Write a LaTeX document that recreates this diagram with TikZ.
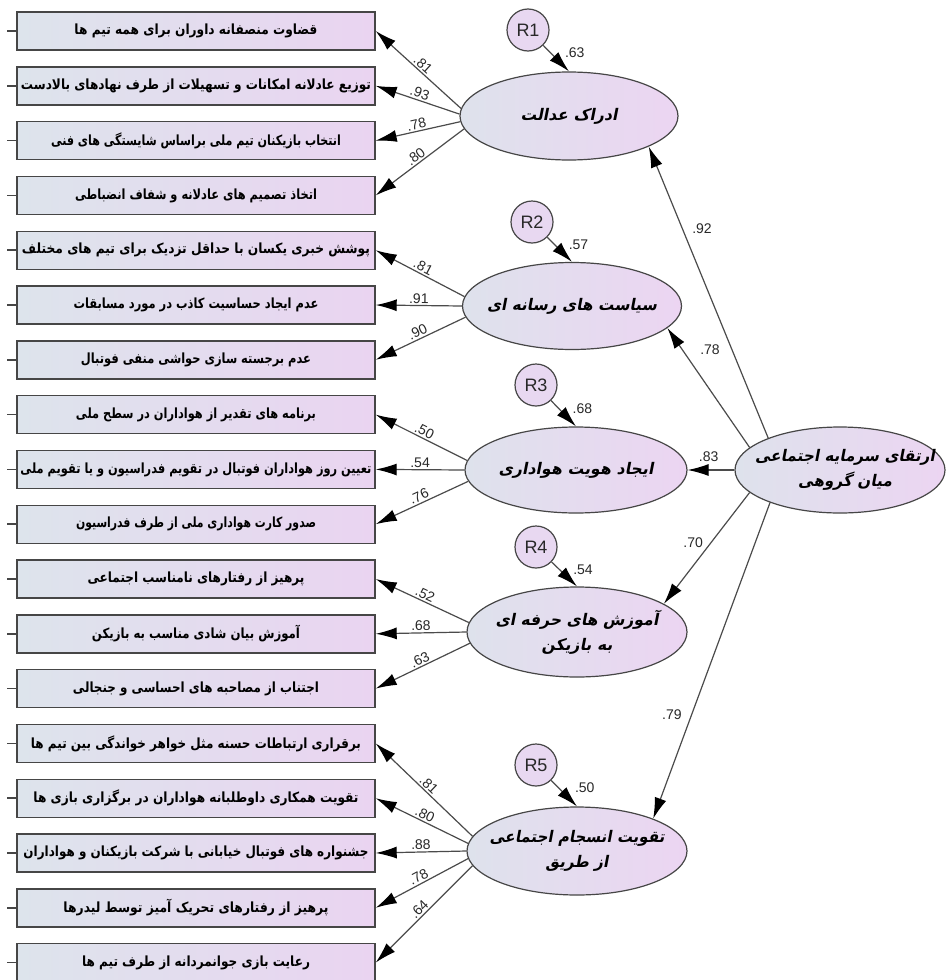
\documentclass[tikz,border=0pt]{standalone}
\usepackage{graphicx}
\usepackage{fontspec}
\setmainfont{Liberation Sans}
\newfontfamily\arabicfont[Script=Arabic]{DejaVu Sans}
\newfontfamily\arabicsl[Script=Arabic,FakeSlant=0.2]{DejaVu Sans}
\TeXXeTstate=1
\usetikzlibrary{arrows.meta,shapes.geometric}
\definecolor{boxL}{RGB}{221,228,236}
\definecolor{boxR}{RGB}{234,212,241}
\definecolor{ellL}{RGB}{222,226,236}
\definecolor{ellR}{RGB}{236,213,242}
\definecolor{resC}{RGB}{232,216,241}
\definecolor{edgeC}{RGB}{70,70,70}
\definecolor{lineC}{RGB}{75,75,75}
\definecolor{numC}{RGB}{40,40,40}
\newcommand\bt[2]{\resizebox{#1pt}{\height}{\arabicfont\bfseries #2}}
\newcommand\et[2]{\resizebox{#1pt}{\height}{\arabicsl\bfseries #2}}
\tikzset{
  ind/.style={draw=edgeC, line width=1.4pt, left color=boxL, right color=boxR,
    minimum width=358pt, minimum height=38pt, inner sep=0pt,
    font=\fontsize{14}{16}\selectfont},
  lat/.style={ellipse, draw=edgeC, line width=1.2pt, left color=ellL, right color=ellR,
    inner sep=0pt},
  ltxt/.style={align=center, inner sep=0pt, font=\fontsize{16}{25}\selectfont, text=black},
  res/.style={circle, draw=edgeC, line width=1.2pt, fill=resC, minimum size=42pt,
    inner sep=0pt, text=numC, font=\fontsize{18}{20}\selectfont},
  arr/.style={draw=lineC, line width=1.2pt, -{Latex[length=21pt,width=12pt,black]}},
  stub/.style={draw=edgeC, line width=1.5pt},
  lbl/.style={font=\fontsize{14}{16}\selectfont, text=numC, inner sep=1.5pt},
}
\begin{document}
\begin{tikzpicture}[x=1pt,y=-1pt]
\useasboundingbox (0,0) rectangle (947,980);
\clip (0,0) rectangle (947,980);
\fill[white] (0,0) rectangle (947,980);

% indicator boxes
\node[ind] (b1)  at (196,31)    {\bt{243}{\beginR قضاوت منصفانه داوران برای همه تیم ها\endR}};
\node[ind] (b2)  at (196,85.8)  {\bt{350}{\beginR توزیع عادلانه امکانات و تسهیلات از طرف نهادهای بالادست\endR}};
\node[ind] (b3)  at (196,140.6) {\bt{290}{\beginR انتخاب بازیکنان تیم ملی براساس شایستگی های فنی\endR}};
\node[ind] (b4)  at (196,195.4) {\bt{242}{\beginR اتخاذ تصمیم های عادلانه و شفاف انضباطی\endR}};
\node[ind] (b5)  at (196,250.2) {\bt{348}{\beginR پوشش خبری یکسان با حداقل تزدیک برای تیم های مختلف\endR}};
\node[ind] (b6)  at (196,305)   {\bt{245}{\beginR عدم ایجاد حساسیت کاذب در مورد مسابقات\endR}};
\node[ind] (b7)  at (196,359.8) {\bt{230}{\beginR عدم برجسته سازی حواشی منفی فوتبال\endR}};
\node[ind] (b8)  at (196,414.6) {\bt{240}{\beginR برنامه های تقدیر از هواداران در سطح ملی\endR}};
\node[ind] (b9)  at (196,469.4) {\bt{351}{\beginR تعیین روز هواداران فوتبال در تقویم فدراسیون و یا تقویم ملی\endR}};
\node[ind] (b10) at (196,524.2) {\bt{240}{\beginR صدور کارت هواداری ملی از طرف فدراسیون\endR}};
\node[ind] (b11) at (196,579)   {\bt{217}{\beginR پرهیز از رفتارهای نامناسب اجتماعی\endR}};
\node[ind] (b12) at (196,633.8) {\bt{208}{\beginR آموزش بیان شادی مناسب به بازیکن\endR}};
\node[ind] (b13) at (196,688.6) {\bt{246}{\beginR اجتناب از مصاحبه های احساسی و جنجالی\endR}};
\node[ind] (b14) at (196,743.4) {\bt{330}{\beginR برقراری ارتباطات حسنه مثل خواهر خواندگی بین تیم ها\endR}};
\node[ind] (b15) at (196,798.2) {\bt{325}{\beginR تقویت همکاری داوطلبانه هواداران در برگزاری بازی ها\endR}};
\node[ind] (b16) at (196,853)   {\bt{345}{\beginR جشنواره های فوتبال خیابانی با شرکت بازیکنان و هواداران\endR}};
\node[ind] (b17) at (196,907.8) {\bt{265}{\beginR پرهیز از رفتارهای تحریک آمیز توسط لیدرها\endR}};
\node[ind] (b18) at (196,962.6) {\bt{228}{\beginR رعایت بازی جوانمردانه از طرف تیم ها\endR}};

% stubs at left of boxes
\foreach \i/\y in {1/31,2/85.8,3/140.6,4/195.4,5/250.2,6/305,7/359.8,8/414.6,9/469.4,
  10/524.2,11/579,12/633.8,13/688.6,14/743.4,15/798.2,16/853,17/907.8,18/962.6}{
  \coordinate (s\i) at (7,\y);
  \draw[stub] (s\i) -- (b\i.west);
}

% latent variables (fixed size ellipses, text as centred nodes)
\node[lat, minimum width=218pt, minimum height=88pt] (e1) at (569,116) {};
\node[lat, minimum width=219pt, minimum height=87pt] (e2) at (572,306) {};
\node[lat, minimum width=222pt, minimum height=86pt] (e3) at (576,470) {};
\node[lat, minimum width=220pt, minimum height=90pt] (e4) at (577,632) {};
\node[lat, minimum width=220pt, minimum height=88pt] (e5) at (577,851) {};
\node[lat, minimum width=210pt, minimum height=86pt] (hub) at (840,470) {};

\node[ltxt] (t1) at (e1.center) {\et{97}{\beginR ادراک عدالت\endR}};
\node[ltxt] (t2) at (e2.center) {\et{170}{\beginR سیاست های رسانه ای\endR}};
\node[ltxt] (t3) at (e3.center) {\et{155}{\beginR ایجاد هویت هواداری\endR}};
\node[ltxt] (t4) at (e4.center) {\et{163}{\beginR آموزش های حرفه ای\endR}\\\et{71}{\beginR به بازیکن\endR}};
\node[ltxt] (t5) at (e5.center) {\et{175}{\beginR تقویت انسجام اجتماعی\endR}\\\et{63}{\beginR از طریق\endR}};
\node[ltxt] (th) at ([xshift=5pt]hub.center) {\et{180}{\beginR ارتقای سرمایه اجتماعی\endR}\\\et{94}{\beginR میان گروهی\endR}};

% residuals
\node[res] (r1) at (528,30)  {R1};
\node[res] (r2) at (532,222) {R2};
\node[res] (r3) at (536,385) {R3};
\node[res] (r4) at (536,547) {R4};
\node[res] (r5) at (536,765) {R5};

\draw[arr] (r1) -- (e1.north) node[lbl, pos=0.3, anchor=west, xshift=12pt] {.63};
\draw[arr] (r2) -- (e2.north) node[lbl, pos=0.3, anchor=west, xshift=12pt] {.57};
\draw[arr] (r3) -- (e3.north) node[lbl, pos=0.3, anchor=west, xshift=12pt] {.68};
\draw[arr] (r4) -- (e4.north) node[lbl, pos=0.3, anchor=west, xshift=12pt] {.54};
\draw[arr] (r5) -- (e5.north) node[lbl, pos=0.3, anchor=west, xshift=14pt] {.50};

% second-order paths
\draw[arr] (hub.156) -- (e1.-21) node[lbl, pos=0.72, anchor=west, xshift=8pt] {.92};
\draw[arr] (hub.166) -- (e2.-13) node[lbl, pos=0.82, anchor=west, xshift=16pt] {.78};
\draw[arr] (hub.west) -- (e3.east) node[lbl, pos=0.55, above, yshift=6pt] {.83};
\draw[arr] (hub.194) -- (e4.18) node[lbl, pos=0.45, anchor=east, xshift=-6pt] {.70};
\draw[arr] (hub.205) -- (e5.23) node[lbl, pos=0.67, anchor=east, xshift=-8pt] {.79};

% loadings
\draw[arr] (e1.176) -- (b1.east) node[lbl, sloped, above, pos=0.5] {.81};
\draw[arr] (e1.179) -- (b2.east) node[lbl, sloped, above, pos=0.5] {.93};
\draw[arr] (e1.183) -- (b3.east) node[lbl, sloped, above, pos=0.5] {.78};
\draw[arr] (e1.187) -- (b4.east) node[lbl, sloped, above, pos=0.5] {.80};

\draw[arr] (e2.175) -- (b5.east) node[lbl, sloped, above, pos=0.5] {.81};
\draw[arr] (e2.180) -- (b6.east) node[lbl, sloped, above, pos=0.5] {.91};
\draw[arr] (e2.186) -- (b7.east) node[lbl, sloped, above, pos=0.5] {.90};

\draw[arr] (e3.175) -- (b8.east) node[lbl, sloped, above, pos=0.5] {.50};
\draw[arr] (e3.180) -- (b9.east) node[lbl, sloped, above, pos=0.5] {.54};
\draw[arr] (e3.186) -- (b10.east) node[lbl, sloped, above, pos=0.5] {.76};

\draw[arr] (e4.175) -- (b11.east) node[lbl, sloped, above, pos=0.5] {.52};
\draw[arr] (e4.180) -- (b12.east) node[lbl, sloped, above, pos=0.5] {.68};
\draw[arr] (e4.186) -- (b13.east) node[lbl, sloped, above, pos=0.5] {.63};

\draw[arr] (e5.172) -- (b14.east) node[lbl, sloped, above, pos=0.5] {.81};
\draw[arr] (e5.176) -- (b15.east) node[lbl, sloped, above, pos=0.5] {.80};
\draw[arr] (e5.180) -- (b16.east) node[lbl, sloped, above, pos=0.5] {.88};
\draw[arr] (e5.184) -- (b17.east) node[lbl, sloped, above, pos=0.5] {.78};
\draw[arr] (e5.188) -- (b18.east) node[lbl, sloped, above, pos=0.5] {.64};
\end{tikzpicture}
\end{document}
